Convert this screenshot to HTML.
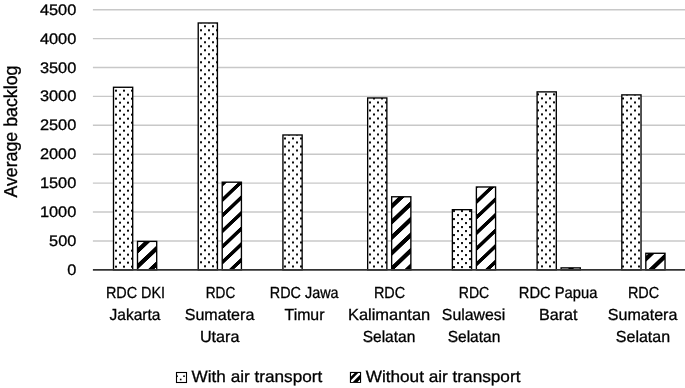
<!DOCTYPE html><html><head><meta charset="utf-8"><style>html,body{margin:0;padding:0;background:#fff;}svg{display:block;will-change:transform;}text{font-family:"Liberation Sans",sans-serif;fill:#000;text-rendering:geometricPrecision;stroke:#000;stroke-width:0.3px;}</style></head><body>
<svg width="685" height="388" viewBox="0 0 685 388">
<rect width="685" height="388" fill="#fff"/>
<defs>
<pattern id="d0" patternUnits="userSpaceOnUse" x="3.00" y="1.70" width="8" height="8"><rect width="8" height="8" fill="#fff"/><rect x="0" y="0" width="2.0" height="1.9" fill="#000"/><rect x="4" y="4" width="2.0" height="1.9" fill="#000"/></pattern>
<pattern id="d1" patternUnits="userSpaceOnUse" x="0.00" y="5.30" width="8" height="8"><rect width="8" height="8" fill="#fff"/><rect x="0" y="0" width="2.0" height="1.9" fill="#000"/><rect x="4" y="4" width="2.0" height="1.9" fill="#000"/></pattern>
<pattern id="d2" patternUnits="userSpaceOnUse" x="0.00" y="5.50" width="8" height="8"><rect width="8" height="8" fill="#fff"/><rect x="0" y="0" width="2.0" height="1.9" fill="#000"/><rect x="4" y="4" width="2.0" height="1.9" fill="#000"/></pattern>
<pattern id="d3" patternUnits="userSpaceOnUse" x="5.00" y="1.50" width="8" height="8"><rect width="8" height="8" fill="#fff"/><rect x="0" y="0" width="2.0" height="1.9" fill="#000"/><rect x="4" y="4" width="2.0" height="1.9" fill="#000"/></pattern>
<pattern id="d4" patternUnits="userSpaceOnUse" x="1.00" y="6.10" width="8" height="8"><rect width="8" height="8" fill="#fff"/><rect x="0" y="0" width="2.0" height="1.9" fill="#000"/><rect x="4" y="4" width="2.0" height="1.9" fill="#000"/></pattern>
<pattern id="d5" patternUnits="userSpaceOnUse" x="5.00" y="1.40" width="8" height="8"><rect width="8" height="8" fill="#fff"/><rect x="0" y="0" width="2.0" height="1.9" fill="#000"/><rect x="4" y="4" width="2.0" height="1.9" fill="#000"/></pattern>
<pattern id="d6" patternUnits="userSpaceOnUse" x="2.00" y="5.50" width="8" height="8"><rect width="8" height="8" fill="#fff"/><rect x="0" y="0" width="2.0" height="1.9" fill="#000"/><rect x="4" y="4" width="2.0" height="1.9" fill="#000"/></pattern>
<pattern id="h0" patternUnits="userSpaceOnUse" width="40" height="15.6" patternTransform="translate(137.00,240.70) skewY(-43.531)"><rect width="40" height="15.6" fill="#fff"/><rect y="7.750" width="40" height="5.5" fill="#000" shape-rendering="crispEdges"/></pattern>
<pattern id="h1" patternUnits="userSpaceOnUse" width="40" height="15.6" patternTransform="translate(221.72,181.50) skewY(-43.531)"><rect width="40" height="15.6" fill="#fff"/><rect y="0.750" width="40" height="5.5" fill="#000" shape-rendering="crispEdges"/></pattern>
<pattern id="h2" patternUnits="userSpaceOnUse" width="40" height="15.6" patternTransform="translate(306.44,0.00) skewY(-43.531)"><rect width="40" height="15.6" fill="#fff"/><rect y="12.850" width="40" height="5.5" fill="#000" shape-rendering="crispEdges"/><rect y="-2.750" width="40" height="5.5" fill="#000" shape-rendering="crispEdges"/></pattern>
<pattern id="h3" patternUnits="userSpaceOnUse" width="40" height="15.6" patternTransform="translate(391.16,196.10) skewY(-43.531)"><rect width="40" height="15.6" fill="#fff"/><rect y="8.150" width="40" height="5.5" fill="#000" shape-rendering="crispEdges"/></pattern>
<pattern id="h4" patternUnits="userSpaceOnUse" width="40" height="15.6" patternTransform="translate(475.88,186.30) skewY(-43.531)"><rect width="40" height="15.6" fill="#fff"/><rect y="13.250" width="40" height="5.5" fill="#000" shape-rendering="crispEdges"/><rect y="-2.350" width="40" height="5.5" fill="#000" shape-rendering="crispEdges"/></pattern>
<pattern id="h5" patternUnits="userSpaceOnUse" width="40" height="15.6" patternTransform="translate(560.60,267.20) skewY(-43.531)"><rect width="40" height="15.6" fill="#fff"/><rect y="8.550" width="40" height="5.5" fill="#000" shape-rendering="crispEdges"/></pattern>
<pattern id="h6" patternUnits="userSpaceOnUse" width="40" height="15.6" patternTransform="translate(645.32,252.60) skewY(-43.531)"><rect width="40" height="15.6" fill="#fff"/><rect y="4.250" width="40" height="5.5" fill="#000" shape-rendering="crispEdges"/></pattern>
</defs>
<line x1="92.9" x2="685" y1="240.94" y2="240.94" stroke="#c8c8c8" stroke-width="1.4"/>
<line x1="92.9" x2="685" y1="212.04" y2="212.04" stroke="#c8c8c8" stroke-width="1.4"/>
<line x1="92.9" x2="685" y1="183.13" y2="183.13" stroke="#c8c8c8" stroke-width="1.4"/>
<line x1="92.9" x2="685" y1="154.23" y2="154.23" stroke="#c8c8c8" stroke-width="1.4"/>
<line x1="92.9" x2="685" y1="125.32" y2="125.32" stroke="#c8c8c8" stroke-width="1.4"/>
<line x1="92.9" x2="685" y1="96.41" y2="96.41" stroke="#c8c8c8" stroke-width="1.4"/>
<line x1="92.9" x2="685" y1="67.51" y2="67.51" stroke="#c8c8c8" stroke-width="1.4"/>
<line x1="92.9" x2="685" y1="38.60" y2="38.60" stroke="#c8c8c8" stroke-width="1.4"/>
<line x1="92.9" x2="685" y1="9.70" y2="9.70" stroke="#c8c8c8" stroke-width="1.4"/>
<rect x="113.50" y="87.27" width="19.20" height="182.58" fill="url(#d0)" stroke="#000" stroke-width="1.35"/>
<rect x="137.50" y="241.38" width="19.20" height="28.48" fill="url(#h0)" stroke="#000" stroke-width="1.35"/>
<rect x="198.22" y="22.98" width="19.20" height="246.88" fill="url(#d1)" stroke="#000" stroke-width="1.35"/>
<rect x="222.22" y="182.18" width="19.20" height="87.68" fill="url(#h1)" stroke="#000" stroke-width="1.35"/>
<rect x="282.94" y="134.98" width="19.20" height="134.88" fill="url(#d2)" stroke="#000" stroke-width="1.35"/>
<rect x="367.66" y="97.97" width="19.20" height="171.88" fill="url(#d3)" stroke="#000" stroke-width="1.35"/>
<rect x="391.66" y="196.78" width="19.20" height="73.08" fill="url(#h3)" stroke="#000" stroke-width="1.35"/>
<rect x="452.38" y="209.68" width="19.20" height="60.18" fill="url(#d4)" stroke="#000" stroke-width="1.35"/>
<rect x="476.38" y="186.98" width="19.20" height="82.88" fill="url(#h4)" stroke="#000" stroke-width="1.35"/>
<rect x="537.10" y="91.88" width="19.20" height="177.98" fill="url(#d5)" stroke="#000" stroke-width="1.35"/>
<rect x="561.10" y="267.88" width="19.20" height="1.98" fill="url(#h5)" stroke="#000" stroke-width="1.35"/>
<rect x="621.82" y="94.88" width="19.20" height="174.98" fill="url(#d6)" stroke="#000" stroke-width="1.35"/>
<rect x="645.82" y="253.28" width="19.20" height="16.58" fill="url(#h6)" stroke="#000" stroke-width="1.35"/>
<line x1="92.9" x2="685" y1="269.85" y2="269.85" stroke="#333" stroke-width="1.7"/>
<text x="76.3" y="274.90" font-size="15.3" text-anchor="end" textLength="9.10" lengthAdjust="spacingAndGlyphs">0</text>
<text x="76.3" y="245.99" font-size="15.3" text-anchor="end" textLength="27.20" lengthAdjust="spacingAndGlyphs">500</text>
<text x="76.3" y="217.09" font-size="15.3" text-anchor="end" textLength="36.40" lengthAdjust="spacingAndGlyphs">1000</text>
<text x="76.3" y="188.18" font-size="15.3" text-anchor="end" textLength="36.40" lengthAdjust="spacingAndGlyphs">1500</text>
<text x="76.3" y="159.28" font-size="15.3" text-anchor="end" textLength="36.40" lengthAdjust="spacingAndGlyphs">2000</text>
<text x="76.3" y="130.37" font-size="15.3" text-anchor="end" textLength="36.40" lengthAdjust="spacingAndGlyphs">2500</text>
<text x="76.3" y="101.46" font-size="15.3" text-anchor="end" textLength="36.40" lengthAdjust="spacingAndGlyphs">3000</text>
<text x="76.3" y="72.56" font-size="15.3" text-anchor="end" textLength="36.40" lengthAdjust="spacingAndGlyphs">3500</text>
<text x="76.3" y="43.65" font-size="15.3" text-anchor="end" textLength="36.40" lengthAdjust="spacingAndGlyphs">4000</text>
<text x="76.3" y="14.75" font-size="15.3" text-anchor="end" textLength="36.40" lengthAdjust="spacingAndGlyphs">4500</text>
<text transform="translate(17.0,131.6) rotate(-90)" font-size="18.7" text-anchor="middle" textLength="132" lengthAdjust="spacingAndGlyphs">Average backlog</text>
<text x="105.90" y="297.9" font-size="16.0" textLength="59.22" lengthAdjust="spacingAndGlyphs">RDC DKI</text>
<text x="109.62" y="319.9" font-size="16.0" textLength="50.78" lengthAdjust="spacingAndGlyphs">Jakarta</text>
<text x="205.76" y="297.9" font-size="16.0" textLength="29.50" lengthAdjust="spacingAndGlyphs">RDC</text>
<text x="184.74" y="319.9" font-size="16.0" textLength="69.58" lengthAdjust="spacingAndGlyphs">Sumatera</text>
<text x="199.92" y="341.6" font-size="16.0" textLength="39.50" lengthAdjust="spacingAndGlyphs">Utara</text>
<text x="269.86" y="297.9" font-size="16.0" textLength="68.66" lengthAdjust="spacingAndGlyphs">RDC Jawa</text>
<text x="284.56" y="319.9" font-size="16.0" textLength="39.86" lengthAdjust="spacingAndGlyphs">Timur</text>
<text x="373.92" y="297.9" font-size="16.0" textLength="31.22" lengthAdjust="spacingAndGlyphs">RDC</text>
<text x="347.96" y="319.9" font-size="16.0" textLength="82.24" lengthAdjust="spacingAndGlyphs">Kalimantan</text>
<text x="362.70" y="341.6" font-size="16.0" textLength="52.60" lengthAdjust="spacingAndGlyphs">Selatan</text>
<text x="458.84" y="297.9" font-size="16.0" textLength="30.44" lengthAdjust="spacingAndGlyphs">RDC</text>
<text x="441.82" y="319.9" font-size="16.0" textLength="63.40" lengthAdjust="spacingAndGlyphs">Sulawesi</text>
<text x="447.70" y="341.6" font-size="16.0" textLength="52.60" lengthAdjust="spacingAndGlyphs">Selatan</text>
<text x="518.84" y="297.9" font-size="16.0" textLength="78.50" lengthAdjust="spacingAndGlyphs">RDC Papua</text>
<text x="538.92" y="319.9" font-size="16.0" textLength="38.56" lengthAdjust="spacingAndGlyphs">Barat</text>
<text x="627.90" y="297.9" font-size="16.0" textLength="31.24" lengthAdjust="spacingAndGlyphs">RDC</text>
<text x="607.76" y="319.9" font-size="16.0" textLength="69.60" lengthAdjust="spacingAndGlyphs">Sumatera</text>
<text x="615.82" y="341.6" font-size="16.0" textLength="54.28" lengthAdjust="spacingAndGlyphs">Selatan</text>
<rect x="176.5" y="372.5" width="10" height="10" fill="#fff" stroke="#000" stroke-width="1.1"/>
<rect x="176.2" y="375.4" width="1.6" height="1.6" fill="#000"/><rect x="183.2" y="375.4" width="1.6" height="1.6" fill="#000"/><rect x="179.9" y="378.7" width="1.6" height="1.6" fill="#000"/>
<text x="191.56" y="381.6" font-size="16.4" textLength="130.74" lengthAdjust="spacingAndGlyphs">With air transport</text>
<clipPath id="lc"><rect x="350.9" y="372.9" width="9.2" height="9.0"/></clipPath>
<rect x="349.9" y="371.9" width="11.2" height="11" fill="#000"/>
<g clip-path="url(#lc)"><polygon points="334.6,390 359.6,365 362.6,365 337.6,390" fill="#fff"/><polygon points="341.20000000000005,390 366.20000000000005,365 369.79999999999995,365 344.79999999999995,390" fill="#fff"/><polygon points="349.6,390 374.6,365 381,365 356,390" fill="#fff"/></g>
<text x="365.66" y="381.6" font-size="16.4" textLength="154.78" lengthAdjust="spacingAndGlyphs">Without air transport</text>
</svg></body></html>
